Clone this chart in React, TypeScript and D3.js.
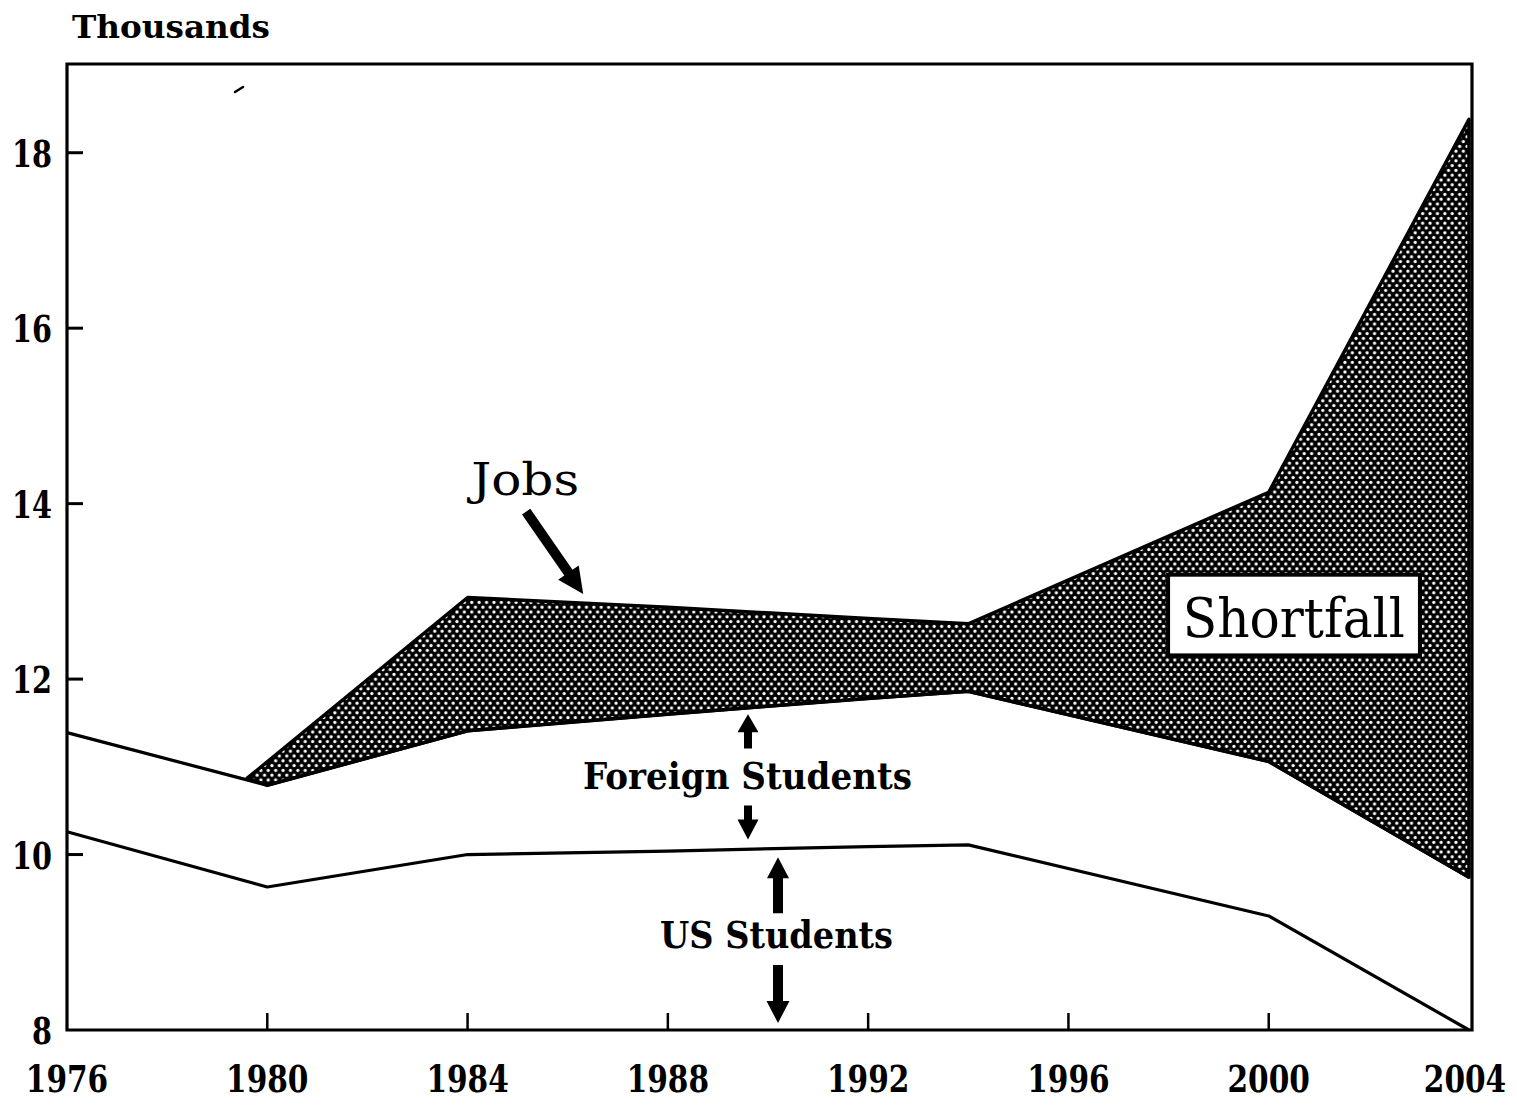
import React from "react";
import * as d3 from "d3";

// ---- Data (thousands) ----
const usYears = [1976, 1980, 1984, 1988, 1992, 1994, 2000, 2004];
const usValues = [10.26, 9.63, 10.0, 10.04, 10.09, 10.11, 9.3, 8.0];

const foreignYears = [1976, 1980, 1984, 1988, 1992, 1994, 2000, 2004];
const foreignValues = [11.39, 10.79, 11.41, 11.6, 11.78, 11.86, 11.06, 9.74];

const jobsYears = [1979.6, 1984, 1988, 1992, 1994, 2000, 2004];
const jobsValues = [10.87, 12.93, 12.82, 12.69, 12.63, 14.13, 18.38];

const xTicks = [1976, 1980, 1984, 1988, 1992, 1996, 2000, 2004];
const yTicks = [8, 10, 12, 14, 16, 18];

const FONT = "'DejaVu Serif', 'Liberation Serif', serif";

type Pt = [number, number];

function arrowPath(x1: number, y1: number, x2: number, y2: number, shaft: number, headLen: number, headW: number) {
  const dx = x2 - x1, dy = y2 - y1;
  const len = Math.hypot(dx, dy);
  const ux = dx / len, uy = dy / len;
  const nx = -uy, ny = ux;
  const bx = x2 - ux * headLen, by = y2 - uy * headLen;
  const p: Pt[] = [
    [x1 + nx * shaft / 2, y1 + ny * shaft / 2],
    [bx + nx * shaft / 2, by + ny * shaft / 2],
    [bx + nx * headW / 2, by + ny * headW / 2],
    [x2, y2],
    [bx - nx * headW / 2, by - ny * headW / 2],
    [bx - nx * shaft / 2, by - ny * shaft / 2],
    [x1 - nx * shaft / 2, y1 - ny * shaft / 2],
  ];
  return "M" + p.map((q) => q[0].toFixed(1) + "," + q[1].toFixed(1)).join("L") + "Z";
}

export default function App() {
  const W = 1517, H = 1105;
  const left = 67, right = 1472, top = 64, bottom = 1030;
  const x = d3.scaleLinear().domain([1976, 2004]).range([67, 1469]);
  const y = d3.scaleLinear().domain([8, 19]).range([1030, 65]);

  const line = d3.line<Pt>().x((d) => x(d[0])).y((d) => y(d[1]));
  const usPts: Pt[] = usYears.map((yr, i) => [yr, usValues[i]]);
  const fPts: Pt[] = foreignYears.map((yr, i) => [yr, foreignValues[i]]);
  const jPts: Pt[] = jobsYears.map((yr, i) => [yr, jobsValues[i]]);

  // shortfall polygon: jobs line forward, foreign line back (from 2004 to 1980)
  const polyPts: Pt[] = [
    ...jPts,
    ...fPts.filter((p) => p[0] >= 1980).slice().reverse(),
  ];
  const polyPath = line(polyPts) + "Z";

  const arrows = [
    { a: [1985.17, 13.91], b: [1986.31, 12.97], s: 10, hl: 26, hw: 25 },
    { a: [1989.6, 11.21], b: [1989.6, 11.6], s: 8, hl: 18, hw: 21 },
    { a: [1989.6, 10.56], b: [1989.6, 10.17], s: 8, hl: 20, hw: 21 },
    { a: [1990.2, 9.33], b: [1990.2, 9.97], s: 10, hl: 21, hw: 22 },
    { a: [1990.2, 8.74], b: [1990.2, 8.08], s: 10, hl: 22, hw: 23 },
  ];

  return (
    <svg width={W} height={H} style={{ position: "absolute", left: 0, top: 0, background: "#fff" }}>
      <defs>
        <pattern id="dots" width={7.4} height={9.6} patternUnits="userSpaceOnUse">
          <rect width={7.4} height={9.6} fill="#000" />
          <circle cx={1.85} cy={2.4} r={1.6} fill="#fff" />
          <circle cx={5.55} cy={7.2} r={1.6} fill="#fff" />
        </pattern>
      </defs>

      {/* shortfall area */}
      <path d={polyPath} fill="url(#dots)" stroke="#000" strokeWidth={3.5} strokeLinejoin="round" />

      {/* lines */}
      <path d={line(usPts) || ""} fill="none" stroke="#000" strokeWidth={3.2} strokeLinejoin="round" />
      <path d={line(fPts) || ""} fill="none" stroke="#000" strokeWidth={3.2} strokeLinejoin="round" />

      {/* frame */}
      <path d={`M${left},${bottom}V${top}H${right}V${bottom}Z`} fill="none" stroke="#000" strokeWidth={3.2} />

      {/* y ticks */}
      {yTicks.map((t) => (
        <g key={"y" + t}>
          {t > 8 && <line x1={left} x2={left + 16} y1={y(t)} y2={y(t)} stroke="#000" strokeWidth={3} />}
          <text x={52} y={y(t) + 14} textAnchor="end" fontFamily={FONT} fontSize={37} fontWeight="bold"
            textLength={t >= 10 ? 40 : 20} lengthAdjust="spacingAndGlyphs">{t}</text>
        </g>
      ))}

      {/* x ticks */}
      {xTicks.map((t) => (
        <g key={"x" + t}>
          {t > 1976 && t < 2004 && <line x1={x(t)} x2={x(t)} y1={bottom} y2={bottom - 17} stroke="#000" strokeWidth={2.5} />}
          <text transform={`translate(${t === 2004 ? x(t) - 4 : x(t)},1092) scale(0.8,1)`} textAnchor="middle"
            fontFamily={FONT} fontSize={37} fontWeight="bold">{t}</text>
        </g>
      ))}

      {/* axis title */}
      <text x={72} y={38} fontFamily={FONT} fontSize={31} fontWeight="bold" textLength={198} lengthAdjust="spacingAndGlyphs">Thousands</text>

      {/* stray mark */}
      <path d="M235,92L243,87" stroke="#000" strokeWidth={2.5} strokeLinecap="round" />

      {/* annotations */}
      {arrows.map((ar, i) => (
        <path key={"a" + i} d={arrowPath(x(ar.a[0]), y(ar.a[1]), x(ar.b[0]), y(ar.b[1]), ar.s, ar.hl, ar.hw)} fill="#000" />
      ))}

      <text x={x(1985.15)} y={y(14.1)} textAnchor="middle" fontFamily={FONT} fontSize={45}
        textLength={108} lengthAdjust="spacingAndGlyphs">Jobs</text>

      <text x={x(1989.59)} y={y(10.75)} textAnchor="middle" fontFamily={FONT} fontSize={37} fontWeight="bold"
        textLength={329} lengthAdjust="spacingAndGlyphs">Foreign Students</text>

      <text x={x(1990.17)} y={y(8.93)} textAnchor="middle" fontFamily={FONT} fontSize={38} fontWeight="bold"
        textLength={233} lengthAdjust="spacingAndGlyphs">US Students</text>

      <rect x={x(1997.99)} y={y(13.19)} width={x(2003.02) - x(1997.99)} height={y(12.27) - y(13.19)}
        fill="#fff" stroke="#000" strokeWidth={4} />
      <text x={x(2000.5)} y={y(12.48)} textAnchor="middle" fontFamily={FONT} fontSize={55}
        textLength={222} lengthAdjust="spacingAndGlyphs">Shortfall</text>
    </svg>
  );
}
